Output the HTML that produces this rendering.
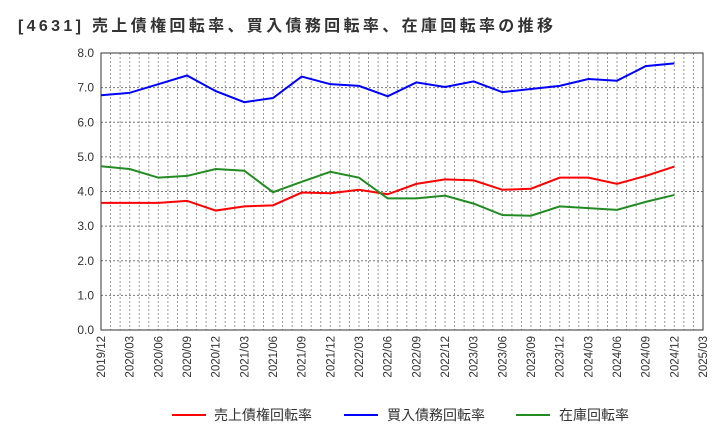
<!DOCTYPE html>
<html><head><meta charset="utf-8"><style>
body{margin:0;background:#fff;font-family:"Liberation Sans","Noto Sans CJK JP",sans-serif}
</style></head><body>
<svg id="c" width="720" height="440" xmlns="http://www.w3.org/2000/svg">
<text x="18" y="31" font-size="16" font-weight="bold" fill="#333" textLength="535" lengthAdjust="spacing" font-family="Liberation Sans, Noto Sans CJK JP, sans-serif">[4631]  売上債権回転率、買入債務回転率、在庫回転率の推移</text>
<g id="grid"></g><g id="axes"></g><g id="series"></g>
<g font-size="14" fill="#333">
<line x1="172" y1="415" x2="206" y2="415" stroke="#ff0000" stroke-width="2"/><text x="214" y="420">売上債権回転率</text>
<line x1="344" y1="415" x2="378" y2="415" stroke="#0000ff" stroke-width="2"/><text x="387" y="420">買入債務回転率</text>
<line x1="516" y1="415" x2="550" y2="415" stroke="#228b22" stroke-width="2"/><text x="559" y="420">在庫回転率</text>
</g>
</svg>
<script>
const categories=["2019/12","2020/03","2020/06","2020/09","2020/12","2021/03","2021/06","2021/09","2021/12","2022/03","2022/06","2022/09","2022/12","2023/03","2023/06","2023/09","2023/12","2024/03","2024/06","2024/09","2024/12","2025/03"];
const payables=[6.78,6.85,7.1,7.35,6.9,6.58,6.7,7.32,7.1,7.05,6.75,7.15,7.02,7.18,6.87,6.96,7.05,7.25,7.2,7.62,7.7];
const receivables=[3.67,3.67,3.67,3.73,3.45,3.57,3.6,3.97,3.95,4.05,3.92,4.22,4.35,4.32,4.05,4.08,4.4,4.4,4.22,4.45,4.72];
const inventory=[4.73,4.65,4.4,4.45,4.65,4.6,3.98,4.28,4.57,4.4,3.8,3.8,3.88,3.65,3.32,3.3,3.57,3.52,3.47,3.7,3.9];
const yTicks=["0.0","1.0","2.0","3.0","4.0","5.0","6.0","7.0","8.0"];
const L=101,R=703,T=53,B=330,NS="http://www.w3.org/2000/svg";
const xs=i=>L+(R-L)*i/(categories.length-1);
const ys=v=>B-(B-T)*v/8;
function mk(p,t,a){const e=document.createElementNS(NS,t);for(const k in a)e.setAttribute(k,a[k]);p.appendChild(e);return e;}
const g=document.getElementById('grid'),ax=document.getElementById('axes'),se=document.getElementById('series');
for(let m=1;m<(categories.length-1)*3;m++){const x=L+(R-L)*m/((categories.length-1)*3);
const l=mk(g,'line',{x1:x,x2:x,y1:T,y2:B,stroke:'#999','stroke-dasharray':'2,2','stroke-width':1});

}
yTicks.forEach((t,i)=>{const y=ys(+t);
if(i>0&&i<8){const l=mk(g,'line',{x1:L,x2:R,y1:y,y2:y,stroke:'#777','stroke-dasharray':'2,2','stroke-width':1});

}
const tx=mk(ax,'text',{x:L-7,y:y+4,'text-anchor':'end','font-size':12,fill:'#333'});tx.textContent=t;

});
categories.forEach((c,i)=>{const x=xs(i);
const tx=mk(ax,'text',{transform:`translate(${x+4},${B+6}) rotate(-90)`,'text-anchor':'end','font-size':11.5,fill:'#333'});tx.textContent=c;

});
const fr=mk(ax,'rect',{x:L,y:T,width:R-L,height:B-T,fill:'none',stroke:'#333','stroke-width':1});


[[payables,'#0000ff','payables-line'],[receivables,'#ff0000','receivables-line'],[inventory,'#228b22','inventory-line']].forEach(([d,c,n])=>{
const p=mk(se,'polyline',{points:d.map((v,i)=>xs(i)+','+ys(v)).join(' '),fill:'none',stroke:c,'stroke-width':2});

});
</script>
</body></html>
